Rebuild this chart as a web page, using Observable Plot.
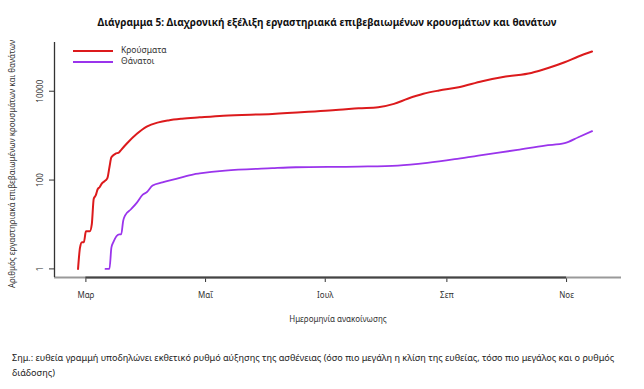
<!DOCTYPE html>
<html><head><meta charset="utf-8">
<script src="https://cdn.jsdelivr.net/npm/d3@7"></script>
<script src="https://cdn.jsdelivr.net/npm/@observablehq/plot@0.6"></script>
<style>
body{margin:0;background:#fff;font-family:"Noto Sans",sans-serif;color:#222;}
#wrap{position:relative;width:644px;height:389px;overflow:hidden;}
#title{position:absolute;top:15px;left:0;width:654px;text-align:center;font-size:10px;font-weight:bold;color:#111;white-space:nowrap;}
#chart{position:absolute;top:0;left:0;}
#legend{position:absolute;left:73px;top:45px;font-size:8.5px;color:#333;}
.lg{position:relative;height:11px;}
.lg span.sw{position:absolute;left:0;top:5px;width:40px;height:2px;}
.lg span.tx{position:absolute;left:48px;top:-1px;white-space:nowrap;}
#caption{position:absolute;left:12px;top:350px;width:626px;font-size:9.1px;line-height:15px;color:#222;}
</style></head><body>
<div id="wrap">
  <div id="title">Διάγραμμα 5: Διαχρονική εξέλιξη εργαστηριακά επιβεβαιωμένων κρουσμάτων και θανάτων</div>
  <div id="chart"></div>
  <div id="legend"></div>
  <div id="caption">Σημ.: ευθεία γραμμή υποδηλώνει εκθετικό ρυθμό αύξησης της ασθένειας (όσο πιο μεγάλη η κλίση της ευθείας, τόσο πιο μεγάλος και ο ρυθμός διάδοσης)</div>
</div>
<script>
const seriesNames = ["Κρούσματα", "Θάνατοι"];
const seriesColors = ["#dc1a1c", "#9a34ec"];

const caseDates = ["2020-02-26","2020-02-27","2020-02-28","2020-02-29","2020-03-01","2020-03-03","2020-03-04","2020-03-05","2020-03-06","2020-03-07","2020-03-08","2020-03-09","2020-03-11","2020-03-12","2020-03-13","2020-03-14","2020-03-16","2020-03-18","2020-03-19","2020-03-22","2020-03-27","2020-04-01","2020-04-07","2020-04-12","2020-04-19","2020-04-28","2020-05-10","2020-06-04","2020-07-03","2020-07-08","2020-07-18","2020-07-28","2020-08-05","2020-08-12","2020-08-20","2020-08-28","2020-09-07","2020-09-19","2020-10-01","2020-10-14","2020-10-23","2020-10-31","2020-11-07","2020-11-14"];
const caseValues = [1,3,4,4,7,7,10,38,45,62,69,82,98,112,194,325,390,424,480,675,1100,1600,1990,2200,2400,2580,2820,3080,3700,3815,4140,4370,5200,6770,8740,10380,12300,16800,21400,25800,33700,44800,60600,78500];

const deathDates = ["2020-03-11","2020-03-13","2020-03-14","2020-03-15","2020-03-18","2020-03-19","2020-03-20","2020-03-21","2020-03-24","2020-03-27","2020-03-30","2020-04-01","2020-04-04","2020-04-09","2020-04-16","2020-04-25","2020-04-28","2020-05-11","2020-06-04","2020-06-16","2020-07-18","2020-08-07","2020-08-22","2020-09-05","2020-09-17","2020-10-07","2020-10-21","2020-10-31","2020-11-07","2020-11-14"];
const deathValues = [1,1,3,4,6,6,12,16,22,31,47,53,75,89,106,135,141,163,185,194,201,212,244,295,356,478,598,675,920,1260];

const xTickDates = ["2020-03-01","2020-05-01","2020-07-01","2020-09-01","2020-11-01"];
const xTickLabels = ["Μαρ","Μαΐ","Ιουλ","Σεπ","Νοε"];
const yTicks = [1, 100, 10000];
const yTickLabels = ["1", "100", "10000"];
const xDomain = ["2020-02-14", "2020-11-29"];
const yDomain = [0.64, 125000];

const yLabel = "Αριθμός εργαστηριακά επιβεβαιωμένων κρουσμάτων και θανάτων";
const xLabel = "Ημερομηνία ανακοίνωσης";

const parse = d3.utcParse("%Y-%m-%d");
const cases = caseDates.map((d, i) => ({date: parse(d), value: caseValues[i]}));
const deaths = deathDates.map((d, i) => ({date: parse(d), value: deathValues[i]}));
const xt = xTickDates.map(parse);
const xd = xDomain.map(parse);

const chart = Plot.plot({
  width: 644,
  height: 330,
  marginTop: 42,
  marginBottom: 53,
  marginLeft: 54,
  marginRight: 23,
  style: {fontFamily: "Noto Sans, sans-serif", fontSize: "8px", color: "#333", background: "transparent", overflow: "visible"},
  x: {type: "utc", domain: xd, ticks: xt, tickSize: 5, tickPadding: 10,
      tickFormat: d => xTickLabels[xt.findIndex(t => +t === +d)], label: null},
  y: {type: "log", domain: yDomain, ticks: yTicks, tickSize: 5, tickFormat: () => "", label: null},
  marks: [
    Plot.ruleY([yDomain[0]], {stroke: "#999", strokeWidth: 2}),
    Plot.ruleY([yDomain[0]], {x1: () => xt[0], x2: () => xt[xt.length - 1], stroke: "#444", strokeWidth: 2}),
    Plot.ruleX([xd[0]], {stroke: "#333", strokeWidth: 1.3}),
    Plot.text(yTicks, {y: d => d, text: (d, i) => yTickLabels[i], frameAnchor: "left", textAnchor: "middle", dx: -14, rotate: -90, fontSize: 8, fill: "#333"}),
    Plot.text([yLabel], {text: d => d, frameAnchor: "left", textAnchor: "middle", dx: -42, dy: 4, rotate: -90, fontSize: 8, fill: "#333"}),
    Plot.text([xLabel], {text: d => d, frameAnchor: "bottom", dy: 44, fontSize: 8, fill: "#333"}),
    Plot.line(deaths, {x: "date", y: "value", stroke: seriesColors[1], strokeWidth: 1.8, curve: "monotone-x"}),
    Plot.line(cases, {x: "date", y: "value", stroke: seriesColors[0], strokeWidth: 2, curve: "monotone-x"})
  ]
});
document.getElementById("chart").appendChild(chart);

const legend = document.getElementById("legend");
seriesNames.forEach((n, i) => {
  const row = document.createElement("div");
  row.className = "lg";
  row.innerHTML = `<span class="sw" style="background:${seriesColors[i]}"></span><span class="tx">${n}</span>`;
  legend.appendChild(row);
});
</script>
</body></html>
